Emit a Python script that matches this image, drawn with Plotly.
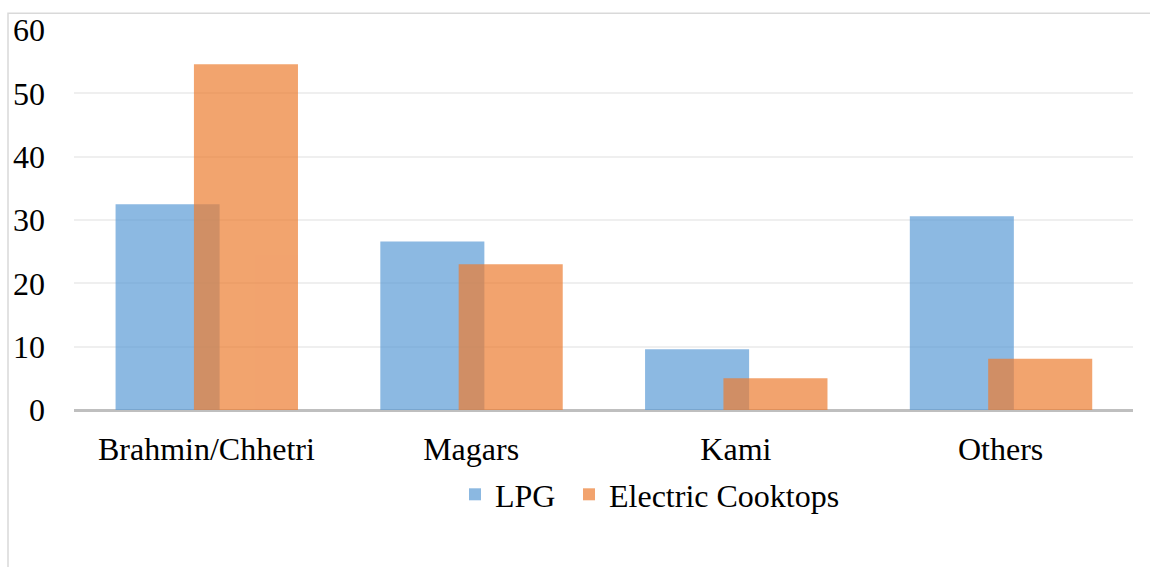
import plotly.graph_objects as go

categories = ["Brahmin/Chhetri", "Magars", "Kami", "Others"]
lpg = [32.5, 26.6, 9.6, 30.6]
electric = [54.6, 23.0, 5.0, 8.1]
y_ticks = [0, 10, 20, 30, 40, 50, 60]

FONT = "Liberation Serif"
FS = 32
W, H = 1150, 567
L, R, T, B = 74, 17, 24, 157

fig = go.Figure()
fig.add_trace(go.Bar(
    x=categories, y=lpg, name="LPG", legend="legend",
    marker=dict(color="rgb(91,155,213)", line=dict(width=0)),
    opacity=0.7, width=0.393, offset=-0.343,
))
fig.add_trace(go.Bar(
    x=categories, y=electric, name="Electric Cooktops", legend="legend2",
    marker=dict(color="rgb(237,125,49)", line=dict(width=0)),
    opacity=0.7, width=0.393, offset=-0.047,
))

pw = W - L - R
ph = H - T - B
fig.add_shape(type="rect", xref="paper", yref="paper",
              x0=(8 - L) / pw, x1=(W + 20 - L) / pw,
              y0=-(B + 20) / ph, y1=1 + (T - 7) / ph,
              line=dict(color="#D9D9D9", width=1.5), layer="below")

leg_common = dict(orientation="h", yanchor="top", y=-0.15, xanchor="left",
                  font=dict(family=FONT, size=FS, color="black"), itemwidth=30,
                  bgcolor="rgba(0,0,0,0)")

fig.update_layout(
    width=W, height=H,
    margin=dict(l=L, r=R, t=T, b=B),
    barmode="overlay",
    plot_bgcolor="white", paper_bgcolor="white",
    font=dict(family=FONT, size=FS, color="black"),
    showlegend=True,
    legend=dict(x=(455 - L) / pw, **leg_common),
    legend2=dict(x=(569 - L) / pw, **leg_common),
    xaxis=dict(showgrid=False, showline=False, zeroline=False, ticks="",
               tickfont=dict(family=FONT, size=FS, color="black"), range=[-0.5, 3.5],
               ticklabelstandoff=17),
    yaxis=dict(range=[0, 60], tickvals=y_ticks, showgrid=True, gridcolor="#EFEFEF",
               gridwidth=1.5, zeroline=True, zerolinecolor="#BFBFBF", zerolinewidth=3,
               showline=False, ticks="", ticklabelstandoff=28,
               tickfont=dict(family=FONT, size=FS, color="black")),
)

fig.write_html("out.html")
